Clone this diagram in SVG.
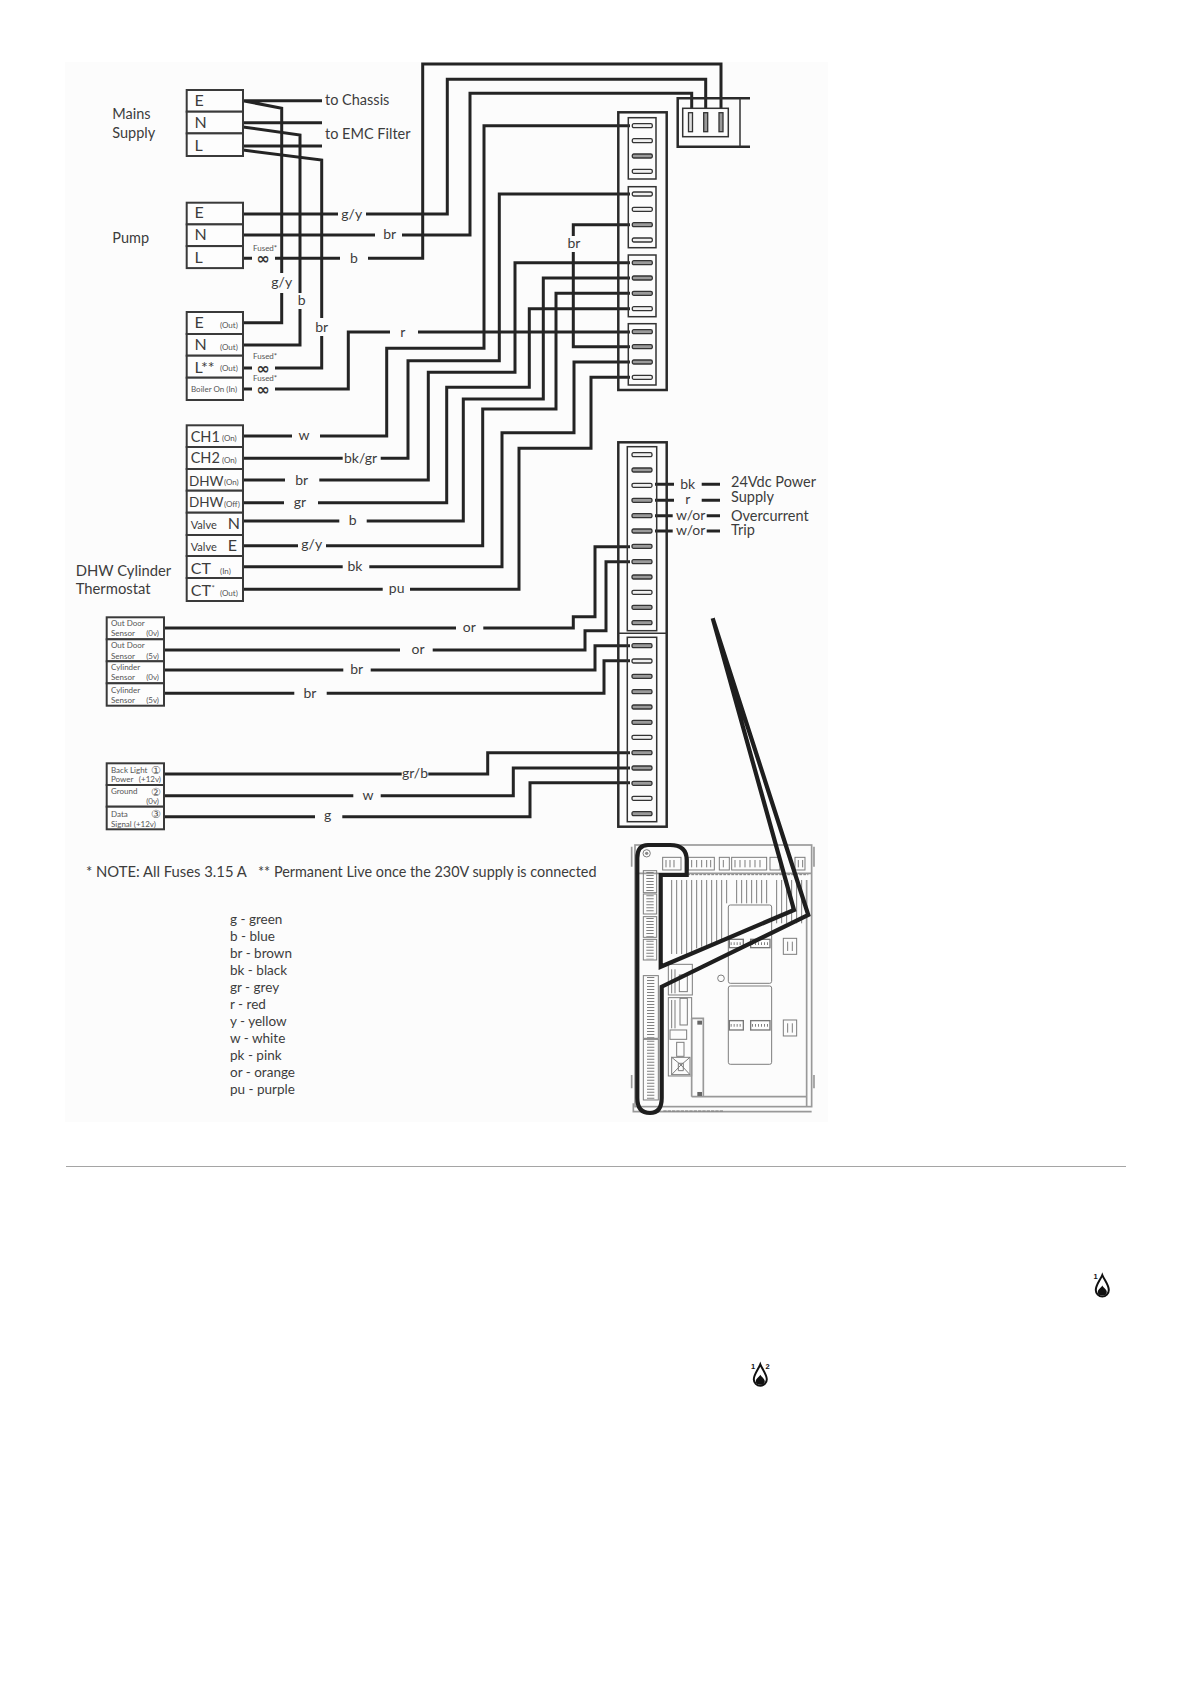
<svg xmlns="http://www.w3.org/2000/svg" width="1190" height="1684" viewBox="0 0 1190 1684">
<style>
text{font-family:Lato,"Liberation Sans",sans-serif;fill:#3c3c3c}
.w{fill:none;stroke:#242424;stroke-width:3;stroke-linejoin:miter}
.b{fill:#fdfdfd;stroke:#3a3a3a;stroke-width:2}
.c{fill:none;stroke:#2a2a2a;stroke-width:2.500}
.t{fill:none;stroke:#333;stroke-width:1.500}
.f16{font-size:16px}.f15{font-size:14.800px}.f145{font-size:14.500px}.f14{font-size:14px}.f135{font-size:13.500px}.f11{font-size:11px}.f8{font-size:8px;fill:#555}
.m{text-anchor:middle}.e{text-anchor:end}
.d{font-family:"DejaVu Sans",sans-serif;font-size:16px;font-weight:bold;fill:#333}
.n{font-family:"DejaVu Sans",sans-serif;font-size:11px;text-anchor:middle;fill:#555}
.g{fill:none;stroke:#7c7c7c;stroke-width:3}
.g2{fill:none;stroke:#999;stroke-width:5}
.k{fill:none;stroke:#808080;stroke-width:22;stroke-dasharray:3 6}
.s{font-family:"Liberation Sans",sans-serif;font-size:7.500px;font-weight:bold;fill:#111;text-anchor:middle}
</style>
<defs>
<rect id="p" x="0" y="-2" width="20" height="4" rx="1.500" fill="#9a9a9a" stroke="#333" stroke-width="1.300"/>
<rect id="q" x="0" y="-2" width="20" height="4" rx="1.500" fill="#f0f0f0" stroke="#333" stroke-width="1.300"/>
<g id="flame"><path d="M0 0C2 5 6.500 10 6.500 15A6.500 6.500 0 0 1-6.500 15C-6.500 10-2 5 0 0Z" fill="#fff" stroke="#111" stroke-width="2"/><path d="M0 10.500C1.500 13 4.500 14.500 4.500 17A4.500 3.500 0 0 1-4.500 17C-4.500 14.500-1.500 13 0 10.500Z" fill="#111"/></g>
</defs>
<rect x="65" y="62" width="763" height="1060" fill="#fcfcfc"/>
<line x1="66" y1="1166.500" x2="1126" y2="1166.500" stroke="#a5a5a5" stroke-width="1"/>

<g id="connectors">
<path class="w" d="M243 100.700H322M243 100.700L281.700 108.300V273M281.700 293V322.700H243"/>
<path class="w" d="M243 122.700H322M243 127L300 135V293M300 309V345H243"/>
<path class="w" d="M243 146H322M243 150L321.700 160V318M321.700 336V368H275"/>
<path class="w" d="M243 214H338M366 214H447.300V79.300H705.700V108"/>
<path class="w" d="M243 235H375M402 235H470V93.300H691.700V108"/>
<path class="w" d="M243 258.300H252M275 258.300H340M368 258.300H422.700V64H721V108"/>
<path class="w" d="M243 436H292M320 436H386.700V348.300H484V125.700H630"/>
<path class="w" d="M243 458.300H342.700M380.700 458.300H408V360.700H499.300V194H630"/>
<path class="w" d="M243 480H285M319.300 480H428.300V372.300H515V262.700H630"/>
<path class="w" d="M243 502.700H284M318 502.700H446.700V387.300H529.300V308.700H630"/>
<path class="w" d="M243 521H339.300M366.700 521H463.300V399H543.300V278H630"/>
<path class="w" d="M243 545.700H298M326 545.700H482.700V409H556V293.300H630"/>
<path class="w" d="M243 566.700H342.700M369.300 566.700H502V432.700H574V362H630"/>
<path class="w" d="M243 589.300H382.700M410 589.300H519V448.300H591V377.300H630"/>
<path class="w" d="M630 224.700H573.300V236M573.300 252V346.700H630"/>
<path class="w" d="M243 389H252M275 389H348.300V332H390M418 332H630"/>
<path class="w" d="M252 368H243"/>
<path class="w" d="M164 628H456M483.300 628H573.300V616.700H595V546.700H630"/>
<path class="w" d="M164 650H400M432.700 650H585V630.700H606V561.700H630"/>
<path class="w" d="M164 670H343.300M370.700 670H595V645.700H630"/>
<path class="w" d="M164 693.300H294.300M326.700 693.300H604V660.700H630"/>
<path class="w" d="M164 774H401.700M428.300 774H487.700V752.700H630"/>
<path class="w" d="M164 795.700H353.300M380.700 795.700H513.300V768H630"/>
<path class="w" d="M164 816.700H315M342.300 816.700H530V782.700H630"/>
<path class="w" d="M655 484.300H674M701.700 484.300H720M655 500.300H674M701.700 500.300H720M655 515.700H672.700M706.700 515.700H720M655 531H672.700M706.700 531H720"/>
</g>

<g id="mains">
<rect class="b" x="186.700" y="90" width="56.300" height="21.700"/><rect class="b" x="186.700" y="111.700" width="56.300" height="21.700"/><rect class="b" x="186.700" y="133.400" width="56.300" height="22.600"/>
<text class="f16" x="194.500" y="106">E</text><text class="f16" x="194.500" y="128">N</text><text class="f16" x="194.500" y="151.300">L</text>
<text class="f145" x="112.300" y="119.300">Mains</text><text class="f145" x="112.300" y="138">Supply</text>
<text class="f145" x="325" y="105">to Chassis</text><text class="f145" x="325" y="139">to EMC Filter</text>
</g>
<g id="pump">
<rect class="b" x="186.700" y="202.700" width="56.300" height="21.700"/><rect class="b" x="186.700" y="224.400" width="56.300" height="21.700"/><rect class="b" x="186.700" y="246.100" width="56.300" height="22"/>
<text class="f16" x="194.500" y="218.300">E</text><text class="f16" x="194.500" y="240">N</text><text class="f16" x="194.500" y="263">L</text>
<text class="f145" x="112.300" y="243.300">Pump</text>
<text class="f8" x="253" y="250.500">Fused*</text><text class="d m" x="263" y="264">∞</text>
</g>
<g id="out">
<rect class="b" x="186.700" y="312" width="56.300" height="22"/><rect class="b" x="186.700" y="334" width="56.300" height="21.700"/><rect class="b" x="186.700" y="355.700" width="56.300" height="22"/><rect class="b" x="186.700" y="377.700" width="56.300" height="22.300"/>
<text class="f16" x="194.500" y="328">E</text><text class="f16" x="194.500" y="350">N</text><text class="f16" x="194.500" y="373">L**</text>
<text class="f8" x="220" y="327.700">(Out)</text><text class="f8" x="220" y="349.500">(Out)</text><text class="f8" x="220" y="371">(Out)</text><text class="f8" x="191" y="391.700">Boiler On (In)</text>
<text class="f8" x="253" y="358.500">Fused*</text><text class="d m" x="263" y="374">∞</text>
<text class="f8" x="253" y="381">Fused*</text><text class="d m" x="263" y="395">∞</text>
</g>
<g id="controls">
<rect class="b" x="186.700" y="425.300" width="56.300" height="21.700"/><rect class="b" x="186.700" y="447" width="56.300" height="22"/><rect class="b" x="186.700" y="469" width="56.300" height="21.700"/><rect class="b" x="186.700" y="490.700" width="56.300" height="22"/><rect class="b" x="186.700" y="512.700" width="56.300" height="22.300"/><rect class="b" x="186.700" y="535" width="56.300" height="21"/><rect class="b" x="186.700" y="556" width="56.300" height="22"/><rect class="b" x="186.700" y="578" width="56.300" height="23"/>
<text class="f145" x="190.700" y="441.700">CH1</text><text class="f8" x="222" y="441">(On)</text>
<text class="f145" x="190.700" y="463.300">CH2</text><text class="f8" x="222" y="462.500">(On)</text>
<text class="f135" x="189" y="486">DHW</text><text class="f8" x="224" y="485">(On)</text>
<text class="f135" x="189" y="507.300">DHW</text><text class="f8" x="224" y="507">(Off)</text>
<text class="f11" x="190.700" y="529.300">Valve</text><text class="f16" x="227.700" y="529.300">N</text>
<text class="f11" x="190.700" y="551">Valve</text><text class="f16" x="227.700" y="551">E</text>
<text class="f16" x="190.700" y="574.300">CT</text><text class="f8" x="220" y="574">(In)</text>
<text class="f16" x="190.700" y="595.700">CT</text><text class="f8" x="208" y="591">**</text><text class="f8" x="220" y="595.500">(Out)</text>
<text class="f15" x="75.700" y="575.700">DHW Cylinder</text><text class="f15" x="75.700" y="594.300">Thermostat</text>
</g>
<g id="sensors">
<rect class="b" x="106.700" y="617.300" width="57.300" height="22"/><rect class="b" x="106.700" y="639.300" width="57.300" height="22"/><rect class="b" x="106.700" y="661.300" width="57.300" height="22"/><rect class="b" x="106.700" y="683.300" width="57.300" height="22.400"/>
<text class="f8" x="111" y="626">Out Door</text><text class="f8" x="111" y="636">Sensor</text><text class="f8 e" x="159" y="636">(0v)</text>
<text class="f8" x="111" y="648.300">Out Door</text><text class="f8" x="111" y="658.700">Sensor</text><text class="f8 e" x="159" y="658.700">(5v)</text>
<text class="f8" x="111" y="670">Cylinder</text><text class="f8" x="111" y="680">Sensor</text><text class="f8 e" x="159" y="680">(0v)</text>
<text class="f8" x="111" y="692.700">Cylinder</text><text class="f8" x="111" y="702.700">Sensor</text><text class="f8 e" x="159" y="702.700">(5v)</text>
</g>
<g id="display">
<rect class="b" x="106.700" y="763.300" width="57.300" height="21.700"/><rect class="b" x="106.700" y="785" width="57.300" height="21.700"/><rect class="b" x="106.700" y="806.700" width="57.300" height="22.600"/>
<text class="f8" x="111" y="772.700">Back Light</text><text class="f8" x="111" y="782.300">Power</text><text class="f8 e" x="161" y="782.300">(+12v)</text>
<text class="f8" x="111" y="794">Ground</text><text class="f8 e" x="159" y="804">(0v)</text>
<text class="f8" x="111" y="816.700">Data</text><text class="f8" x="111" y="826.700">Signal (+12v)</text>
<text class="n" x="155.700" y="774">①</text><text class="n" x="155.700" y="795.500">②</text><text class="n" x="155.700" y="818">③</text>
</g>

<g id="wire-labels" class="f14">
<text class="m" x="351.700" y="218.500">g/y</text><text class="m" x="389.700" y="239">br</text><text class="m" x="354" y="262.500">b</text>
<text class="m" x="281.700" y="287">g/y</text><text class="m" x="301.700" y="305">b</text><text class="m" x="321.700" y="332">br</text>
<text class="m" x="402.700" y="337">r</text><text class="m" x="574" y="248">br</text>
<text class="m" x="304" y="440">w</text><text class="m" x="360.500" y="463">bk/gr</text><text class="m" x="301.700" y="485">br</text><text class="m" x="300" y="507">gr</text><text class="m" x="352.700" y="525">b</text><text class="m" x="311.700" y="549">g/y</text><text class="m" x="355" y="571">bk</text><text class="m" x="396.700" y="593">pu</text>
<text class="m" x="469.300" y="632">or</text><text class="m" x="418" y="654">or</text><text class="m" x="356.700" y="674">br</text><text class="m" x="310" y="698">br</text>
<text class="m" x="415" y="778">gr/b</text><text class="m" x="368" y="800">w</text><text class="m" x="327.700" y="820">g</text>
<text class="m" x="687.700" y="489">bk</text><text class="m" x="687.700" y="504">r</text><text class="m" x="690.700" y="520">w/or</text><text class="m" x="690.700" y="535">w/or</text>
<g class="f145"><text x="731" y="487">24Vdc Power</text><text x="731" y="501.500">Supply</text><text x="731" y="521">Overcurrent</text><text x="731" y="535">Trip</text></g>
</g>

<g id="mains-connector">
<path class="c" d="M750 98.300H677.700V146.700H750"/><path class="t" d="M740 98.300V146.700"/>
<rect class="t" x="682.700" y="108.300" width="45.600" height="28.400"/>
<rect x="688.500" y="112.700" width="4" height="19" fill="#ddd" stroke="#333" stroke-width="1.300"/><rect x="703.700" y="112.700" width="4" height="19" fill="#999" stroke="#333" stroke-width="1.300"/><rect x="719" y="112.700" width="4" height="19" fill="#999" stroke="#333" stroke-width="1.300"/>
</g>
<g id="upper-terminal">
<rect class="c" x="618.300" y="112.300" width="48.400" height="277.700"/>
<rect class="t" x="628.300" y="117.700" width="27.700" height="61.300"/><rect class="t" x="628.300" y="186.700" width="27.700" height="61"/><rect class="t" x="628.300" y="255" width="27.700" height="61.700"/><rect class="t" x="628.300" y="323.700" width="27.700" height="61.300"/>
<use href="#q" x="632.300" y="125.700"/><use href="#q" x="632.300" y="140.700"/><use href="#p" x="632.300" y="156"/><use href="#q" x="632.300" y="171.300"/>
<use href="#q" x="632.300" y="194"/><use href="#q" x="632.300" y="209.300"/><use href="#p" x="632.300" y="224.700"/><use href="#q" x="632.300" y="240"/>
<use href="#p" x="632.300" y="262.700"/><use href="#p" x="632.300" y="278"/><use href="#p" x="632.300" y="293.300"/><use href="#q" x="632.300" y="308.700"/>
<use href="#p" x="632.300" y="331.700"/><use href="#p" x="632.300" y="346.700"/><use href="#p" x="632.300" y="362"/><use href="#q" x="632.300" y="377.300"/>
</g>
<g id="lower-terminal">
<rect class="c" x="618.300" y="442.300" width="48.400" height="384.400"/><path class="t" d="M618.300 633.300H666.700"/>
<rect class="t" x="627.300" y="446.700" width="29.400" height="184"/><rect class="t" x="627.300" y="637.300" width="29.400" height="184.400"/>
<use href="#q" x="632" y="454.700"/><use href="#p" x="632" y="470"/><use href="#q" x="632" y="485.300"/><use href="#p" x="632" y="500.300"/><use href="#p" x="632" y="515.700"/><use href="#p" x="632" y="531"/><use href="#p" x="632" y="546.300"/><use href="#p" x="632" y="561.700"/><use href="#p" x="632" y="577"/><use href="#q" x="632" y="592.300"/><use href="#p" x="632" y="607.300"/><use href="#p" x="632" y="622.700"/>
<use href="#p" x="632" y="645.700"/><use href="#q" x="632" y="661"/><use href="#p" x="632" y="676.300"/><use href="#p" x="632" y="691.700"/><use href="#p" x="632" y="707"/><use href="#p" x="632" y="722.300"/><use href="#q" x="632" y="737.300"/><use href="#p" x="632" y="752.700"/><use href="#p" x="632" y="768"/><use href="#p" x="632" y="783.300"/><use href="#q" x="632" y="798.300"/><use href="#p" x="632" y="813.700"/>
</g>

<g id="board" transform="translate(620 830) scale(.3333)">
<rect class="g2" x="45" y="45" width="530" height="785"/>
<path class="g2" d="M45 130H575M215 800H560V830M560 150V800M35 50V110M582 50V110M35 735V775M582 735V775M40 820V845H575"/>
<path class="g" d="M130 134H565" stroke-dasharray="8 4"/>
<path class="g" d="M155 150V372M170 150V372M185 150V372M200 150V372M215 150V372M230 150V355M245 150V350M260 150V345M275 150V340M290 150V335M305 150V330M320 150V220M350 150V220M365 150V220M380 150V220M395 150V220M410 150V220M425 150V220M440 150V220M470 150V280M485 150V280M500 150V280M515 150V280M530 150V280M545 150V280"/>
<rect class="g" x="128" y="82" width="55" height="38"/><rect class="g" x="205" y="82" width="78" height="38"/><rect class="g" x="298" y="82" width="30" height="38"/><rect class="g" x="335" y="82" width="105" height="38"/><rect class="g" x="450" y="82" width="30" height="38"/><rect class="g" x="525" y="82" width="30" height="38"/>
<path class="g" d="M138 90V112M150 90V112M162 90V112M215 90V112M230 90V112M245 90V112M260 90V112M272 90V112M310 90V112M345 90V112M360 90V112M375 90V112M390 90V112M405 90V112M420 90V112M535 90V112M548 90V112"/>
<rect class="g" x="325" y="225" width="130" height="235" rx="6"/><rect class="g" x="325" y="468" width="130" height="235" rx="6"/>
<rect class="b" x="328" y="328" width="42" height="25" style="stroke:#777;stroke-width:4"/><rect class="b" x="392" y="328" width="58" height="25" style="stroke:#777;stroke-width:4"/><rect class="b" x="328" y="572" width="42" height="28" style="stroke:#777;stroke-width:4"/><rect class="b" x="392" y="572" width="58" height="28" style="stroke:#777;stroke-width:4"/>
<path class="k" d="M332 341H366M396 341H446M332 586H366M396 586H446" style="stroke-width:8"/>
<rect class="g" x="490" y="325" width="40" height="48"/><rect class="g" x="490" y="570" width="40" height="48"/><path class="g" d="M503 335V363M517 335V363M503 580V608M517 580V608"/>
<circle class="g" cx="303" cy="445" r="10"/><circle class="g" cx="80" cy="70" r="11"/><circle cx="80" cy="70" r="5" fill="#888"/>
<rect class="g" x="70" y="122" width="40" height="66"/><rect class="g" x="70" y="192" width="40" height="60"/><rect class="g" x="70" y="260" width="40" height="62"/><rect class="g" x="70" y="328" width="40" height="62"/><rect class="g" x="70" y="437" width="45" height="188"/><rect class="g" x="70" y="628" width="45" height="182"/>
<path class="k" d="M90 126V186M90 196V250M90 264V320M90 332V388M92 441V623M92 632V808"/>
<rect class="g" x="145" y="403" width="72" height="92"/><path class="g" d="M155 418V490M165 418V490"/><rect class="g" x="178" y="435" width="24" height="50"/>
<rect class="g" x="145" y="503" width="70" height="235"/><path class="g" d="M155 510V595M165 510V595"/><rect class="g" x="180" y="505" width="22" height="80"/>
<rect class="g" x="150" y="600" width="50" height="28"/><rect class="g" x="170" y="637" width="22" height="42"/><rect class="g" x="155" y="682" width="55" height="52"/><path class="g" d="M155 682L183 705L210 682M155 734L183 705L210 734M175 700H190V722H175Z"/>
<path class="g2" d="M215 565H250V800M215 565V800"/><rect x="232" y="572" width="14" height="12" fill="#666"/><rect x="232" y="786" width="14" height="12" fill="#666"/>
<path class="g" d="M130 843H310" stroke-dasharray="10 3"/>
</g>
<path id="pointer" d="M712.700 618.300L794 910L660.700 966.700V875H686.700V860Q686.700 845 670 845H648Q637.300 845 637.300 858V1098Q637.300 1113 650 1113Q661.700 1113 661.700 1098V986.700L808.300 915Z" fill="none" stroke="#1e1e1e" stroke-width="4.200" stroke-linejoin="miter"/>

<g id="notes">
<text class="f15" x="86" y="877">* NOTE: All Fuses 3.15 A</text>
<text class="f145" x="258" y="877" style="font-size:14.400px">** Permanent Live once the 230V supply is connected</text>
<g class="f135">
<text x="230" y="924">g - green</text><text x="230" y="941">b - blue</text><text x="230" y="958">br - brown</text><text x="230" y="975">bk - black</text><text x="230" y="992">gr - grey</text><text x="230" y="1009">r - red</text><text x="230" y="1026">y - yellow</text><text x="230" y="1043">w - white</text><text x="230" y="1060">pk - pink</text><text x="230" y="1077">or - orange</text><text x="230" y="1094">pu - purple</text>
</g>
</g>
<g id="flame-1"><use href="#flame" x="1102.300" y="1275"/><text class="s" x="1095.700" y="1279">1</text></g>
<g id="flame-2"><use href="#flame" x="760.300" y="1364.300"/><text class="s" x="753.200" y="1368.500">1</text><text class="s" x="767.500" y="1368.500">2</text></g>
</svg>
